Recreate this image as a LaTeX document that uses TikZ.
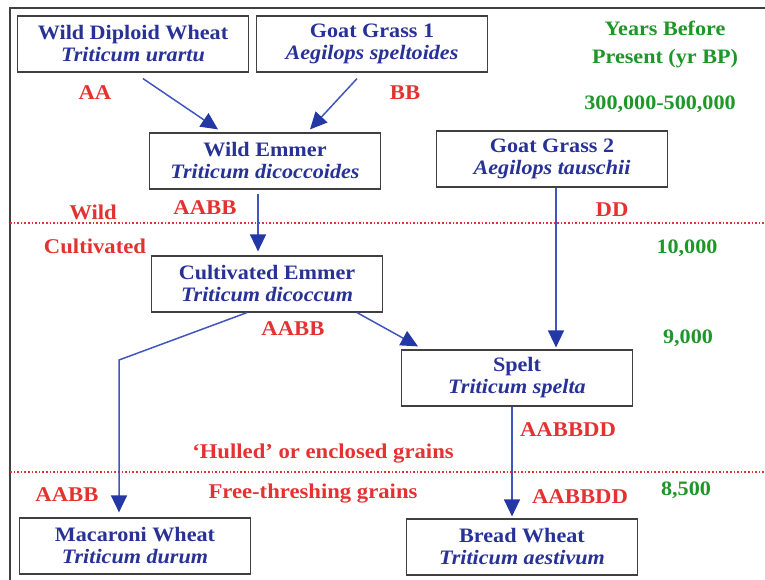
\documentclass[tikz,border=0pt]{standalone}
\usepackage{fontspec}
\setmainfont{Liberation Serif}[FakeStretch=1.08]
\usetikzlibrary{arrows.meta}
\definecolor{txtblue}{RGB}{40,50,150}
\definecolor{lineblue}{RGB}{65,85,190}
\definecolor{tipblue}{RGB}{35,55,165}
\definecolor{gred}{RGB}{228,50,50}
\definecolor{ygreen}{RGB}{30,150,40}
\begin{document}
\begin{tikzpicture}[x=1pt, y=-1pt,
	species/.style={draw=black!75, line width=1.2pt, minimum width=231pt, minimum height=56pt,
		inner sep=0pt, align=center, text=txtblue, font=\fontsize{20.5}{22}\selectfont\bfseries},
	genome/.style={text=gred, font=\fontsize{21}{23}\selectfont\bfseries},
	years/.style={text=ygreen, font=\fontsize{20.5}{28}\selectfont\bfseries, align=center},
	link/.style={draw=lineblue, line width=1.5pt, -{Triangle[length=17pt,width=16pt,color=tipblue]}},
	divide/.style={draw=gred, dotted, line width=1.6pt}]
	\useasboundingbox (0,0) rectangle (765,580);
	\draw[black!75, line width=1.5pt] (10,580) -- (10,8) -- (765,8);

	\node[species] (wdw)     at (133,44)  {Wild Diploid Wheat\\\textit{Triticum urartu}};
	\node[species] (gg1)     at (372,44)  {Goat Grass 1\\\textit{Aegilops speltoides}};
	\node[species] (wemmer)  at (265,161) {Wild Emmer\\\textit{Triticum dicoccoides}};
	\node[species] (gg2)     at (552,159) {Goat Grass 2\\\textit{Aegilops tauschii}};
	\node[species] (cemmer)  at (267,284) {Cultivated Emmer\\\textit{Triticum dicoccum}};
	\node[species] (spelt)   at (517,378) {Spelt\\\textit{Triticum spelta}};
	\node[species] (macaroni) at (135,546) {Macaroni Wheat\\\textit{Triticum durum}};
	\node[species] (bread)   at (522,547) {Bread Wheat\\\textit{Triticum aestivum}};

	\node[genome] (aa)     at (95,93)   {AA};
	\node[genome] (bb)     at (405,93)  {BB};
	\node[genome] (aabb1)  at (205,208) {AABB};
	\node[genome] (dd)     at (612,210) {DD};
	\node[genome] (aabb2)  at (293,329) {AABB};
	\node[genome] (aabbdd1) at (568,430) {AABBDD};
	\node[genome] (aabb3)  at (67,495)  {AABB};
	\node[genome] (aabbdd2) at (580,497) {AABBDD};

	\node[genome] (wild)       at (93,212)  {Wild};
	\node[genome] (cultivated) at (95,246)  {Cultivated};
	\node[genome] (hulled)     at (323,454) {`Hulled' or enclosed grains};
	\node[genome] (free)       at (313,494) {Free-threshing grains};

	\node[years] (ybp)  at (665,44)  {Years Before\\Present (yr BP)};
	\node[years] (y300) at (660,104) {300,000-500,000};
	\node[years] (y10)  at (687,248) {10,000};
	\node[years] (y9)   at (688,338) {9,000};
	\node[years] (y85)  at (686,490) {8,500};

	\draw[divide] (10,223) -- (765,223);
	\draw[divide] (10,472) -- (765,472);

	\coordinate (bend) at (119,360);

	\draw[link] ([xshift=10pt,yshift=-6pt]wdw.south) -- ([xshift=-47pt,yshift=3pt]wemmer.north);
	\draw[link] ([xshift=-15pt,yshift=-6pt]gg1.south) -- ([xshift=45pt,yshift=3pt]wemmer.north);
	\draw[link] ([xshift=-7pt,yshift=-4pt]wemmer.south) -- ([xshift=-9pt,yshift=4pt]cemmer.north);
	\draw[link] ([xshift=90pt]cemmer.south) -- ([xshift=-99pt,yshift=3pt]spelt.north);
	\draw[link] ([xshift=4pt]gg2.south) -- ([xshift=39pt,yshift=2pt]spelt.north);
	\draw[link] ([xshift=-5pt]spelt.south) -- ([xshift=-10pt,yshift=2pt]bread.north);
	\draw[link] ([xshift=-20pt]cemmer.south) -- (bend) -- ([xshift=-16pt,yshift=5pt]macaroni.north);
\end{tikzpicture}
\end{document}
